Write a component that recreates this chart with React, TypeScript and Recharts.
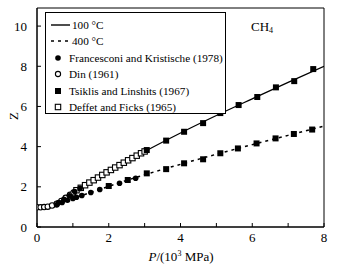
import React from 'react';
import { ComposedChart, Line, Scatter, XAxis, YAxis, ReferenceArea, Legend } from 'recharts';

const FONT = '"Liberation Serif", "Times New Roman", Times, serif';

// Model curves
const line100P = [0, 0.3, 0.6, 1.0, 1.5, 2.0, 2.5, 3.0, 4.0, 5.0, 6.0, 7.0, 8.0];
const line100Z = [1.0, 1.02, 1.22, 1.72, 2.25, 2.78, 3.28, 3.76, 4.68, 5.55, 6.38, 7.2, 8.0];
const line400P = [0, 0.3, 0.6, 1.0, 1.5, 2.0, 2.5, 3.0, 4.0, 5.0, 6.0, 7.0, 8.0];
const line400Z = [1.0, 1.02, 1.15, 1.42, 1.72, 2.02, 2.32, 2.6, 3.12, 3.62, 4.1, 4.56, 5.02];

// Experimental data sets
const francesconiP = [0.6, 0.75, 0.9, 1.05, 1.2, 0.55, 0.7, 0.85, 1.0, 1.1, 1.25, 1.5, 1.75, 2.3, 2.75];
const francesconiZ = [1.22, 1.38, 1.55, 1.77, 1.92, 1.1, 1.22, 1.33, 1.42, 1.48, 1.57, 1.72, 1.87, 2.18, 2.43];

const dinP = [0, 0.1, 0.2, 0.3, 0.42, 0.55, 0.68, 0.8, 0.92, 1.02];
const dinZ = [0.98, 0.98, 0.99, 1.01, 1.07, 1.16, 1.3, 1.45, 1.6, 1.72];

const tsiklisP = [3.06, 3.6, 4.1, 4.63, 5.11, 5.62, 6.14, 6.66, 7.17, 7.7,
  2.0, 2.53, 3.06, 3.6, 4.1, 4.63, 5.11, 5.6, 6.12, 6.65, 7.16, 7.67];
const tsiklisZ = [3.83, 4.3, 4.74, 5.17, 5.67, 6.07, 6.47, 6.95, 7.26, 7.86,
  2.04, 2.34, 2.67, 2.88, 3.17, 3.37, 3.67, 3.91, 4.16, 4.41, 4.63, 4.85];

const deffetP = [1.1, 1.22, 1.34, 1.46, 1.58, 1.7, 1.82, 1.94, 2.06, 2.18, 2.3, 2.42, 2.54, 2.66, 2.78, 2.9, 3.0];
const deffetZ = [1.83, 1.95, 2.08, 2.21, 2.33, 2.46, 2.59, 2.72, 2.84, 2.96, 3.08, 3.2, 3.32, 3.43, 3.55, 3.67, 3.76];

const xTicks = [0, 1, 2, 3, 4, 5, 6, 7, 8];
const yTicks = [0, 2, 4, 6, 8, 10];
const xMax = 8;
const yMax = 10.9;

const toPts = (ps: number[], zs: number[]) => ps.map((p, i) => ({ P: p, Z: zs[i] }));

const FilledCircle = (p: any) => <circle cx={p.cx} cy={p.cy} r={2.8} fill="#000" />;
const OpenCircle = (p: any) => <circle cx={p.cx} cy={p.cy} r={2.7} fill="#fff" stroke="#000" strokeWidth={1.1} />;
const FilledSquare = (p: any) => <rect x={p.cx - 3} y={p.cy - 3} width={6} height={6} fill="#000" />;
const OpenSquare = (p: any) => <rect x={p.cx - 2.7} y={p.cy - 2.7} width={5.4} height={5.4} fill="#fff" stroke="#000" strokeWidth={1.1} />;

const legendRows = [
  { kind: 'solid', label: '100 °C' },
  { kind: 'dash', label: '400 °C' },
  { kind: 'fc', label: 'Francesconi and Kristische (1978)' },
  { kind: 'oc', label: 'Din (1961)' },
  { kind: 'fs', label: 'Tsiklis and Linshits (1967)' },
  { kind: 'os', label: 'Deffet and Ficks (1965)' },
];

const Swatch = ({ kind }: { kind: string }) => (
  <svg width={24} height={12} style={{ position: 'absolute', left: 3, top: 2 }}>
    {kind === 'solid' && <line x1={2} y1={6} x2={21} y2={6} stroke="#000" strokeWidth={1.4} />}
    {kind === 'dash' && <line x1={2} y1={6} x2={21} y2={6} stroke="#000" strokeWidth={1.4} strokeDasharray="3 4" />}
    {kind === 'fc' && <circle cx={9} cy={6} r={2.8} fill="#000" />}
    {kind === 'oc' && <circle cx={9} cy={6} r={2.6} fill="#fff" stroke="#000" strokeWidth={1.1} />}
    {kind === 'fs' && <rect x={6} y={3} width={6} height={6} fill="#000" />}
    {kind === 'os' && <rect x={6.3} y={3.3} width={5.4} height={5.4} fill="#fff" stroke="#000" strokeWidth={1.1} />}
  </svg>
);

const LegendBox = () => (
  <div style={{ position: 'relative', width: 181, height: 102, border: '1px solid #000', boxSizing: 'border-box', background: '#fff', fontFamily: FONT, fontSize: 11.2, color: '#000' }}>
    {legendRows.map((r, i) => (
      <div key={r.label} style={{ position: 'absolute', left: 0, top: 4 + i * 16.4, height: 16, width: 180 }}>
        <Swatch kind={r.kind} />
        <span style={{ position: 'absolute', left: r.kind === 'solid' || r.kind === 'dash' ? 26 : 23, top: 0, lineHeight: '16px', whiteSpace: 'nowrap' }}>{r.label}</span>
      </div>
    ))}
  </div>
);

const tickStyle = { fontSize: 13, fill: '#000', fontFamily: FONT };

export default function App() {
  return (
    <div style={{ position: 'absolute', left: 0, top: 0, width: 343, height: 272, background: '#fff' }}>
      <ComposedChart width={343} height={272} margin={{ top: 8, right: 19, bottom: 0, left: 0 }}>
        <XAxis
          type="number"
          dataKey="P"
          domain={[0, xMax]}
          ticks={xTicks}
          tickFormatter={(v: number) => (v % 2 === 0 ? String(v) : '')}
          allowDataOverflow
          height={45}
          tickSize={-4}
          tickMargin={10}
          tick={tickStyle}
          axisLine={{ stroke: '#000' }}
          tickLine={{ stroke: '#000' }}
        />
        <YAxis
          type="number"
          dataKey="Z"
          domain={[0, yMax]}
          ticks={yTicks}
          allowDataOverflow
          width={37}
          tickSize={-4}
          tickMargin={14}
          tick={tickStyle}
          axisLine={{ stroke: '#000' }}
          tickLine={{ stroke: '#000' }}
        />
        <ReferenceArea x1={0} x2={xMax} y1={0} y2={yMax} fill="none" stroke="#000" strokeWidth={1} />
        <Line data={toPts(line100P, line100Z)} dataKey="Z" type="monotone" stroke="#000" strokeWidth={1.3} dot={false} isAnimationActive={false} legendType="none" />
        <Line data={toPts(line400P, line400Z)} dataKey="Z" type="monotone" stroke="#000" strokeWidth={1.5} strokeDasharray="3 4" dot={false} isAnimationActive={false} legendType="none" />
        <Scatter data={toPts(deffetP, deffetZ)} dataKey="Z" shape={OpenSquare} isAnimationActive={false} />
        <Scatter data={toPts(dinP, dinZ)} dataKey="Z" shape={OpenCircle} isAnimationActive={false} />
        <Scatter data={toPts(francesconiP, francesconiZ)} dataKey="Z" shape={FilledCircle} isAnimationActive={false} />
        <Scatter data={toPts(tsiklisP, tsiklisZ)} dataKey="Z" shape={FilledSquare} isAnimationActive={false} />
        <Legend
          layout="horizontal"
          align="center"
          verticalAlign="middle"
          content={() => <LegendBox />}
          wrapperStyle={{ left: 45, top: 12, width: 181, height: 102 }}
        />
      </ComposedChart>
      <div style={{ position: 'absolute', left: 251, top: 19, fontFamily: FONT, fontSize: 13, lineHeight: '16px' }}>
        CH<sub style={{ fontSize: 8, verticalAlign: 'baseline', position: 'relative', top: 2 }}>4</sub>
      </div>
      <div style={{ position: 'absolute', left: 6, top: 108, width: 16, height: 16, fontFamily: FONT, fontSize: 13, lineHeight: '16px', textAlign: 'center', transform: 'rotate(-90deg)' }}>
        Z
      </div>
      <div style={{ position: 'absolute', left: 131, top: 249, width: 100, textAlign: 'center', fontFamily: FONT, fontSize: 13, lineHeight: '16px', whiteSpace: 'nowrap' }}>
        <i>P</i>/(10<sup style={{ fontSize: 8, verticalAlign: 'baseline', position: 'relative', top: -5 }}>3</sup> MPa)
      </div>
    </div>
  );
}
